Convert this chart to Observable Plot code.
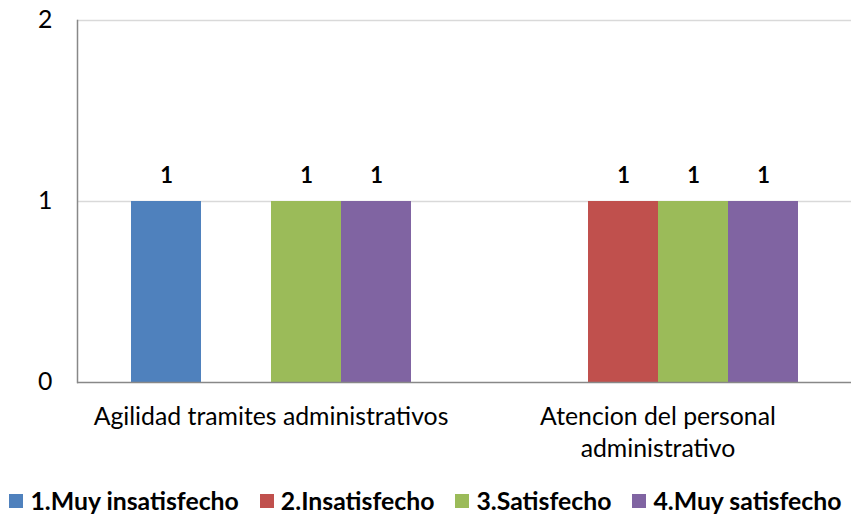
<!DOCTYPE html>
<html>
<head>
<meta charset="utf-8">
<script src="https://cdn.jsdelivr.net/npm/d3@7"></script>
<script src="https://cdn.jsdelivr.net/npm/@observablehq/plot@0.6"></script>
<style>
  html, body { margin: 0; padding: 0; background: #fff; }
  body { width: 851px; font-family: Lato, "Open Sans", sans-serif; }
  #legend { display: flex; justify-content: center; gap: 21px; margin-top: 22px; font-weight: bold; font-size: 24.8px; line-height: 1.1; color: #000; }
  #legend .item { display: flex; align-items: center; gap: 7px; }
  #legend .sw { width: 14px; height: 14px; display: inline-block; }
</style>
</head>
<body>
<div id="chart"></div>
<div id="legend"></div>
<script>
const categories = ["Agilidad tramites administrativos", "Atencion del personal administrativo"];
const levels = ["1.Muy insatisfecho", "2.Insatisfecho", "3.Satisfecho", "4.Muy satisfecho"];
const agilidadValues = [1, null, 1, 1];
const atencionValues = [null, 1, 1, 1];
const colors = ["#4f81bd", "#c0504d", "#9bbb59", "#8064a2"];
const yTicks = [0, 1, 2];

const seriesByCat = [agilidadValues, atencionValues];
const data = [];
categories.forEach((c, ci) => levels.forEach((l, li) => {
  const v = seriesByCat[ci][li];
  if (v != null) data.push({category: c, level: l, value: v});
}));

const wrapLabels = {
  "Agilidad tramites administrativos": "Agilidad tramites administrativos",
  "Atencion del personal administrativo": "Atencion del personal\nadministrativo"
};

const marks = [
  Plot.ruleY([1, 2], {stroke: "#d9d9d9", strokeWidth: 1.5}),
  Plot.barY(data, {fx: "category", x: "level", y: "value", fill: "level"}),
  Plot.text(data, {fx: "category", x: "level", y: "value", text: d => String(d.value), dy: -26, fontWeight: "bold", fontSize: 22, fill: "#000"}),
  Plot.ruleY([0], {stroke: "#888", strokeWidth: 1.5}),
  Plot.axisY({ticks: yTicks, tickSize: 0, tickPadding: 25, fontSize: 24.8, tickFormat: d => String(d), anchor: "left", label: null}),
  Plot.axisFx({anchor: "bottom", tickSize: 0, tickPadding: 20, fontSize: 24.8, lineHeight: 1.28, tickFormat: d => wrapLabels[d], lineAnchor: "top", label: null})
];
try { marks.push(Plot.frame({anchor: "left", facet: "super", stroke: "#888", strokeWidth: 1.5})); } catch (e) {}

const chart = Plot.plot({
  width: 851,
  height: 465,
  marginLeft: 77,
  marginRight: 0,
  marginTop: 20,
  marginBottom: 83,
  style: {fontFamily: "Lato, 'Open Sans', sans-serif", color: "#000", background: "#fff"},
  fx: {domain: categories, padding: 0, label: null},
  x: {domain: levels, paddingInner: 0, paddingOuter: 0.745, axis: null},
  y: {domain: [0, 2], axis: null, label: null},
  color: {domain: levels, range: colors},
  marks
});
document.getElementById("chart").appendChild(chart);

const legend = document.getElementById("legend");
levels.forEach((l, i) => {
  const it = document.createElement("div");
  it.className = "item";
  it.innerHTML = `<span class="sw" style="background:${colors[i]}"></span><span>${l}</span>`;
  legend.appendChild(it);
});
</script>
</body>
</html>
